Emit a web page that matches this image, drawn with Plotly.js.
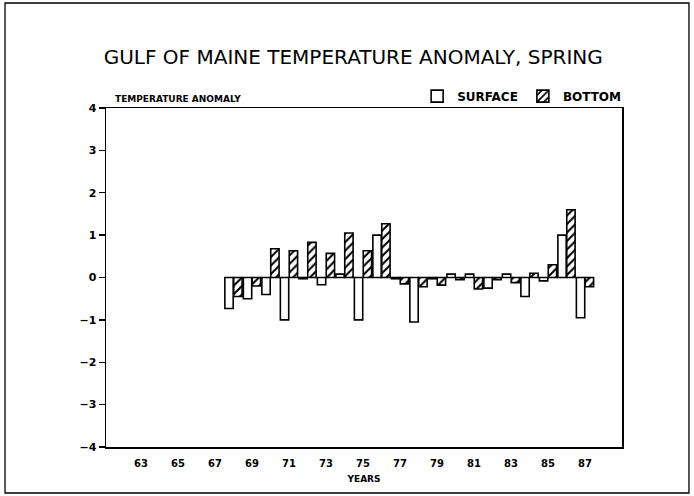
<!DOCTYPE html>
<html>
<head>
<meta charset="utf-8">
<script src="https://cdn.plot.ly/plotly-3.0.1.min.js"></script>
<style>html,body{margin:0;padding:0;background:#fff;}#chart{width:694px;height:496px;}</style>
</head>
<body>
<div id="chart"></div>
<script>
const years = [68,69,70,71,72,73,74,75,76,77,78,79,80,81,82,83,84,85,86,87];
const surface = [-0.73,-0.5,-0.4,-1.0,-0.03,-0.17,0.08,-1.0,1.0,-0.03,-1.05,-0.03,0.08,0.08,-0.25,0.08,-0.45,-0.08,1.0,-0.95];
const bottom = [-0.45,-0.2,0.68,0.63,0.83,0.57,1.05,0.63,1.27,-0.15,-0.22,-0.18,-0.05,-0.27,-0.05,-0.12,0.1,0.3,1.6,-0.22];
const yearTickVals = [63,65,67,69,71,73,75,77,79,81,83,85,87];
const yearTickText = ['63','65','67','69','71','73','75','77','79','81','83','85','87'];
const yTickVals = [4,3,2,1,0,-1,-2,-3,-4];
const yTickText = ['4','3','2','1','0','\u22121','\u22122','\u22123','\u22124'];

const traces = [
  {type:'bar', name:'SURFACE', x:years, y:surface,
   marker:{color:'#ffffff', line:{color:'#000', width:1.6}}},
  {type:'bar', name:'BOTTOM', x:years, y:bottom,
   marker:{color:'#ffffff', line:{color:'#000', width:1.6},
     pattern:{shape:'/', fgcolor:'#000', bgcolor:'#fff', size:6, solidity:0.35}}}
];

const layout = {
  width:694, height:496,
  margin:{l:106, r:72, t:108, b:49},
  paper_bgcolor:'#fff', plot_bgcolor:'#fff',
  font:{family:'DejaVu Sans', color:'#000'},
  title:{text:'GULF OF MAINE TEMPERATURE ANOMALY, SPRING', x:0.509, xanchor:'center', y:0.886, yanchor:'middle',
    font:{family:'DejaVu Sans', size:20, color:'#000'}},
  barmode:'group', bargap:0.04, bargroupgap:0.06,
  showlegend:true,
  legend:{orientation:'h', x:1.008, xanchor:'right', y:1.035, yanchor:'middle',
    font:{family:'DejaVu Sans', size:12, weight:'bold', color:'#000'}, traceorder:'normal', bgcolor:'rgba(0,0,0,0)'},
  xaxis:{type:'linear', range:[61.11, 89.0], tickmode:'array', tickvals:yearTickVals, ticktext:yearTickText,
    ticks:'', ticklabelstandoff:6, showgrid:false, zeroline:false,
    showline:true, mirror:true, linecolor:'#000', linewidth:1.5,
    tickfont:{family:'DejaVu Sans', size:10, weight:'bold', color:'#000'},
    title:{text:'YEARS', standoff:8, font:{family:'DejaVu Sans', size:9, weight:'bold', color:'#000'}}},
  yaxis:{range:[-4,4], tickmode:'array', tickvals:yTickVals, ticktext:yTickText, ticks:'outside', ticklen:6, tickwidth:1.3, tickcolor:'#000',
    showgrid:false, zeroline:false, showline:true, mirror:true, linecolor:'#000', linewidth:1.5,
    tickfont:{family:'DejaVu Sans', size:11, weight:'bold', color:'#000'}},
  annotations:[
    {text:'TEMPERATURE ANOMALY', xref:'paper', yref:'paper', x:0.0136, y:1.0265, xanchor:'left', yanchor:'middle', showarrow:false,
     font:{family:'DejaVu Sans', size:9, weight:'bold', color:'#000'}}
  ],
  shapes:[
    {type:'rect', xref:'paper', yref:'paper', x0:-0.1957, x1:1.1298, y0:-0.1357, y1:1.3097, line:{color:'#000', width:1.3}}
  ]
};

Plotly.newPlot('chart', traces, layout, {displayModeBar:false, staticPlot:true});
</script>
</body>
</html>
